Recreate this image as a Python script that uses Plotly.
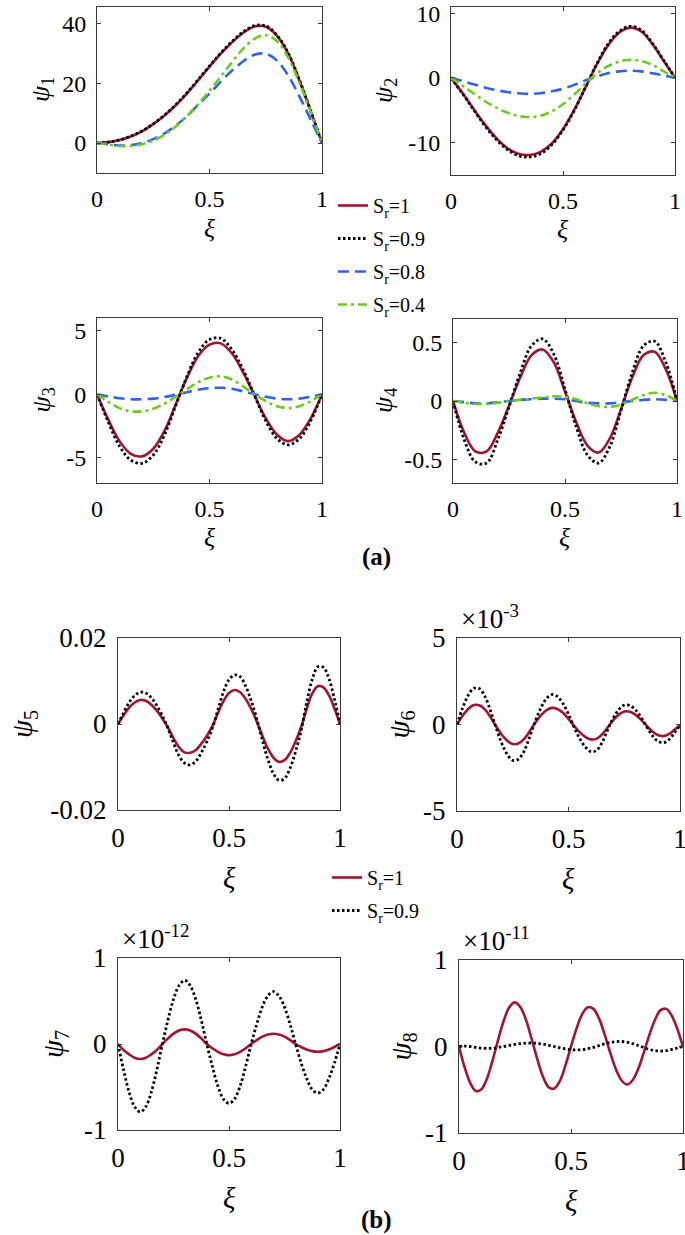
import plotly.graph_objects as go

# ---------------- data ----------------
XI_A = [0, 0.05, 0.1, 0.15, 0.2, 0.25, 0.3, 0.35, 0.4, 0.45, 0.5,
        0.55, 0.6, 0.65, 0.7, 0.75, 0.8, 0.85, 0.9, 0.95, 1.0]
XI_B = [0, 0.025, 0.05, 0.075, 0.1, 0.125, 0.15, 0.175, 0.2, 0.225, 0.25,
        0.275, 0.3, 0.325, 0.35, 0.375, 0.4, 0.425, 0.45, 0.475, 0.5,
        0.525, 0.55, 0.575, 0.6, 0.625, 0.65, 0.675, 0.7, 0.725, 0.75,
        0.775, 0.8, 0.825, 0.85, 0.875, 0.9, 0.925, 0.95, 0.975, 1.0]

SR_A = ["S<sub>r</sub>=1", "S<sub>r</sub>=0.9", "S<sub>r</sub>=0.8", "S<sub>r</sub>=0.4"]
SR_B = ["S<sub>r</sub>=1", "S<sub>r</sub>=0.9"]

# psi_1
psi1_10 = [0, 0.3, 1.0, 2.2, 3.9, 6.3, 9.2, 12.6, 16.6, 21.0, 25.5,
           29.8, 33.6, 36.8, 38.9, 38.8, 35.8, 29.8, 20.8, 10.6, 0]
psi1_09 = [0, 0.3, 1.0, 2.3, 4.0, 6.4, 9.3, 12.8, 16.8, 21.2, 25.7,
           30.0, 33.9, 37.1, 39.2, 39.1, 36.0, 30.0, 21.0, 10.7, 0]
psi1_08 = [0, -0.4, -0.8, -0.7, 0, 1.3, 3.2, 5.8, 9.0, 12.8, 16.5,
           20.5, 24.2, 27.3, 29.5, 29.8, 27.5, 22.5, 15.5, 7.8, 0]
psi1_04 = [0, -0.5, -1.0, -1.0, -0.4, 0.8, 2.8, 5.5, 9.0, 13.0, 17.5,
           22.2, 27.0, 31.5, 34.8, 36.0, 34.0, 28.5, 20.0, 10.3, 0]

# psi_2
psi2_10 = [0, -2.3, -4.8, -7.2, -9.3, -10.9, -11.8, -12.0, -11.5, -10.2, -8.0,
           -5.0, -1.5, 2.0, 5.0, 7.0, 7.8, 7.2, 5.2, 2.6, 0]
psi2_09 = [0, -2.4, -4.9, -7.4, -9.5, -11.1, -12.1, -12.3, -11.8, -10.4, -8.1,
           -5.1, -1.5, 2.1, 5.2, 7.2, 8.0, 7.4, 5.3, 2.7, 0]
psi2_08 = [0, -0.5, -1.0, -1.5, -1.9, -2.2, -2.4, -2.5, -2.4, -2.1, -1.7,
           -1.1, -0.4, 0.2, 0.7, 1.0, 1.1, 1.0, 0.7, 0.35, 0]
psi2_04 = [0, -1.2, -2.4, -3.6, -4.6, -5.4, -5.9, -6.1, -5.9, -5.2, -4.1,
           -2.6, -0.9, 0.6, 1.8, 2.5, 2.8, 2.6, 2.0, 1.0, 0]

# psi_3
psi3_10 = [0, -2.0, -3.7, -4.7, -4.9, -4.3, -2.9, -0.8, 1.3, 3.0, 3.9,
           4.0, 3.2, 1.7, -0.1, -1.9, -3.2, -3.7, -3.2, -1.9, 0]
psi3_09 = [0, -2.2, -4.1, -5.2, -5.45, -4.8, -3.2, -0.9, 1.4, 3.3, 4.3,
           4.4, 3.5, 1.9, -0.1, -2.1, -3.5, -4.0, -3.5, -2.1, 0]
psi3_08 = [0, -0.18, -0.32, -0.4, -0.4, -0.35, -0.22, -0.05, 0.15, 0.35, 0.47,
           0.5, 0.42, 0.22, 0.0, -0.2, -0.35, -0.4, -0.35, -0.2, 0]
psi3_04 = [0, -0.6, -1.1, -1.35, -1.35, -1.15, -0.75, -0.2, 0.4, 0.95, 1.3,
           1.4, 1.15, 0.6, 0.0, -0.55, -0.95, -1.1, -0.95, -0.55, 0]

# psi_4
psi4_10 = [0, -0.27, -0.43, -0.43, -0.27, -0.04, 0.2, 0.39, 0.44, 0.33, 0.08,
           -0.18, -0.38, -0.44, -0.32, -0.07, 0.2, 0.39, 0.42, 0.27, 0]
psi4_09 = [0, -0.33, -0.52, -0.53, -0.33, -0.05, 0.24, 0.47, 0.53, 0.40, 0.1,
           -0.22, -0.46, -0.53, -0.39, -0.08, 0.24, 0.47, 0.51, 0.33, 0]
psi4_08 = [0, -0.01, -0.02, -0.02, -0.01, 0.0, 0.01, 0.015, 0.02, 0.02, 0.015,
           0.0, -0.015, -0.02, -0.02, -0.01, 0.0, 0.01, 0.015, 0.01, 0]
psi4_04 = [0, -0.015, -0.025, -0.025, -0.015, 0.0, 0.01, 0.02, 0.03, 0.04, 0.035,
           0.015, -0.02, -0.045, -0.05, -0.03, 0.01, 0.05, 0.07, 0.05, 0]

# psi_5
psi5_10 = [0, 0.0020, 0.0038, 0.0050, 0.0056, 0.0054, 0.0045, 0.0031, 0.0013, -0.0008, -0.0033,
           -0.0054, -0.0066, -0.0067, -0.0061, -0.0046, -0.0028, -0.0005, 0.0025, 0.0053, 0.0072,
           0.0079, 0.0074, 0.0058, 0.0035, 0.0006, -0.0027, -0.0057, -0.0078, -0.0088, -0.0084,
           -0.0067, -0.0040, -0.0007, 0.0035, 0.0071, 0.0088, 0.0085, 0.0067, 0.0036, 0]
psi5_09 = [0, 0.0026, 0.0050, 0.0066, 0.0074, 0.0072, 0.0061, 0.0043, 0.0019, -0.0010, -0.0044,
           -0.0074, -0.0091, -0.0095, -0.0087, -0.0067, -0.0041, -0.0010, 0.0033, 0.0075, 0.0103,
           0.0114, 0.0110, 0.0088, 0.0054, 0.0012, -0.0037, -0.0082, -0.0115, -0.0131, -0.0127,
           -0.0103, -0.0064, -0.0015, 0.0050, 0.0104, 0.0133, 0.0132, 0.0106, 0.0058, 0]

# psi_6 (x 1e-3)
psi6_10 = [0, 0.50, 0.90, 1.12, 1.11, 0.87, 0.43, -0.10, -0.58, -0.94, -1.13,
           -1.10, -0.85, -0.41, 0.09, 0.51, 0.82, 0.96, 0.90, 0.68, 0.33,
           -0.08, -0.44, -0.71, -0.86, -0.83, -0.58, -0.18, 0.24, 0.57, 0.75,
           0.74, 0.57, 0.28, -0.07, -0.39, -0.61, -0.67, -0.56, -0.31, -0.04]
psi6_09 = [0, 0.94, 1.68, 2.09, 2.08, 1.63, 0.80, -0.18, -1.06, -1.72, -2.07,
           -2.01, -1.56, -0.75, 0.16, 0.92, 1.48, 1.73, 1.62, 1.22, 0.59,
           -0.15, -0.80, -1.29, -1.57, -1.51, -1.06, -0.33, 0.36, 0.85, 1.12,
           1.10, 0.85, 0.42, -0.11, -0.62, -0.96, -1.06, -0.88, -0.49, -0.05]

# psi_7 (x 1e-12)
psi7_10 = [0, -0.07, -0.12, -0.16, -0.175, -0.16, -0.12, -0.07, 0, 0.065, 0.12,
           0.157, 0.17, 0.157, 0.12, 0.065, 0, -0.05, -0.092, -0.12, -0.13,
           -0.12, -0.092, -0.05, 0, 0.046, 0.085, 0.11, 0.12, 0.11, 0.085,
           0.046, 0, -0.035, -0.064, -0.083, -0.09, -0.083, -0.064, -0.035, 0]
psi7_09 = [0, -0.30, -0.56, -0.73, -0.79, -0.73, -0.56, -0.30, 0, 0.28, 0.52,
           0.68, 0.74, 0.68, 0.52, 0.28, 0, -0.26, -0.49, -0.64, -0.69,
           -0.64, -0.49, -0.26, 0, 0.23, 0.43, 0.56, 0.61, 0.56, 0.43,
           0.23, 0, -0.22, -0.40, -0.53, -0.57, -0.53, -0.40, -0.22, 0]

# psi_8 (x 1e-11)
psi8_10 = [0, -0.24, -0.42, -0.515, -0.495, -0.37, -0.16, 0.08, 0.30, 0.455, 0.51,
           0.45, 0.30, 0.08, -0.15, -0.35, -0.47, -0.485, -0.40, -0.22, 0,
           0.21, 0.375, 0.455, 0.435, 0.325, 0.14, -0.07, -0.26, -0.39, -0.44,
           -0.39, -0.26, -0.07, 0.135, 0.31, 0.42, 0.435, 0.355, 0.20, 0]
psi8_09 = [0, 0.005, 0.0, -0.01, -0.018, -0.022, -0.02, -0.012, 0.0, 0.012, 0.024,
           0.033, 0.039, 0.04, 0.036, 0.027, 0.014, 0.0, -0.015, -0.028, -0.037,
           -0.04, -0.037, -0.026, -0.01, 0.01, 0.03, 0.046, 0.056, 0.058, 0.05,
           0.034, 0.012, -0.012, -0.034, -0.048, -0.053, -0.048, -0.034, -0.017, 0]

# tick values / labels
XTICKS = [0, 0.5, 1]
XTICKTEXT = ["0", "0.5", "1"]
Y_TICKS = {
    1: ([0, 20, 40], ["0", "20", "40"]),
    2: ([-10, 0, 10], ["-10", "0", "10"]),
    3: ([-5, 0, 5], ["-5", "0", "5"]),
    4: ([-0.5, 0, 0.5], ["-0.5", "0", "0.5"]),
    5: ([-0.02, 0, 0.02], ["-0.02", "0", "0.02"]),
    6: ([-5, 0, 5], ["-5", "0", "5"]),
    7: ([-1, 0, 1], ["-1", "0", "1"]),
    8: ([-1, 0, 1], ["-1", "0", "1"]),
}
Y_RANGES = {1: [-10, 45.4], 2: [-15.1, 11], 3: [-7, 6], 4: [-0.7, 0.7],
            5: [-0.02, 0.02], 6: [-5, 5], 7: [-1, 1], 8: [-1, 1]}
EXPONENTS = {6: "-3", 7: "-12", 8: "-11"}

# ---------------- styles ----------------
W, H = 685, 1235
FONT = "Liberation Serif, Times New Roman, serif"
RED = "#A2142F"
BLUE = "#2F62F2"
GREEN = "#6CCB1E"
STYLES = [
    dict(color=RED, width=2.6, dash="solid"),
    dict(color="black", width=2.8, dash="2.5px,2.5px"),
    dict(color=BLUE, width=2.6, dash="11px,6px"),
    dict(color=GREEN, width=2.6, dash="9px,4px,3px,4px"),
]

# subplot boxes in pixels: (left, right, top, bottom)
BOXES = {
    1: (97, 322, 7, 173),
    2: (451, 675, 7, 175),
    3: (97, 322, 318, 483),
    4: (453, 677, 319, 483),
    5: (118, 340, 638, 810),
    6: (457, 680, 638, 811),
    7: (118, 340, 958, 1130),
    8: (459, 683, 960, 1133),
}

panel_data = {
    1: [psi1_10, psi1_09, psi1_08, psi1_04],
    2: [psi2_10, psi2_09, psi2_08, psi2_04],
    3: [psi3_10, psi3_09, psi3_08, psi3_04],
    4: [psi4_10, psi4_09, psi4_08, psi4_04],
    5: [psi5_10, psi5_09],
    6: [psi6_10, psi6_09],
    7: [psi7_10, psi7_09],
    8: [psi8_10, psi8_09],
}

fig = go.Figure()
layout = dict(template="none", width=W, height=H, autosize=False,
              margin=dict(l=0, r=0, t=0, b=0, pad=0),
              paper_bgcolor="white", plot_bgcolor="white",
              font=dict(family=FONT, color="black"))

annotations = []

for k in range(1, 9):
    L, R, T, B = BOXES[k]
    part_a = k <= 4
    xi = XI_A if part_a else XI_B
    names = SR_A if part_a else SR_B
    fs = 24 if part_a else 27
    for j, ys in enumerate(panel_data[k]):
        st = STYLES[j]
        fig.add_trace(go.Scatter(
            x=xi, y=ys, mode="lines", name=names[j],
            line=dict(color=st["color"], width=st["width"], dash=st["dash"],
                      shape="spline", smoothing=1.0),
            xaxis="x%d" % k, yaxis="y%d" % k,
            legend="legend" if part_a else "legend2",
            legendgroup=("a%d" % j) if part_a else ("b%d" % j),
            showlegend=(k == 1 or k == 5),
            hoverinfo="skip",
        ))
    axcommon = dict(showline=True, linecolor="#3a3a3a", linewidth=1, mirror="ticks",
                    ticks="inside", ticklen=4, tickwidth=1, tickcolor="#3a3a3a",
                    showgrid=False, zeroline=False, automargin=False,
                    ticklabeloverflow="allow",
                    tickfont=dict(family=FONT, size=fs, color="black"))
    layout["xaxis%d" % k] = dict(axcommon, domain=[L / W, R / W], range=[0, 1],
                                 anchor="y%d" % k, tickvals=XTICKS, ticktext=XTICKTEXT,
                                 ticklabelstandoff=4)
    tv, tt = Y_TICKS[k]
    layout["yaxis%d" % k] = dict(axcommon, domain=[1 - B / H, 1 - T / H], range=Y_RANGES[k],
                                 anchor="x%d" % k, tickvals=tv, ticktext=tt,
                                 ticklabelstandoff=5)
    # axis titles as annotations
    xc = (L + R) / 2
    yc = (T + B) / 2
    if part_a:
        xi_y = B + 55
        psi_x = 42 if k in (1, 3) else 385
    else:
        xi_y = B + 68
        psi_x = {5: 24, 6: 400, 7: 55, 8: 402}[k]
    annotations.append(dict(text="<i>ξ</i>", x=xc / W, y=1 - xi_y / H, xref="paper", yref="paper",
                            showarrow=False, xanchor="center", yanchor="middle",
                            font=dict(family=FONT, size=fs + 2, color="black")))
    annotations.append(dict(text="<i>ψ</i><sub>%d</sub>" % k, x=psi_x / W, y=1 - yc / H,
                            xref="paper", yref="paper", textangle=-90,
                            showarrow=False, xanchor="center", yanchor="middle",
                            font=dict(family=FONT, size=fs + 2, color="black")))
    if k in EXPONENTS:
        annotations.append(dict(text="×10<sup>%s</sup>" % EXPONENTS[k], x=(L + 2) / W,
                                y=1 - (T - 2) / H, xref="paper", yref="paper",
                                showarrow=False, xanchor="left", yanchor="bottom",
                                font=dict(family=FONT, size=fs, color="black")))

annotations.append(dict(text="<b>(a)</b>", x=376 / W, y=1 - 557 / H, xref="paper", yref="paper",
                        showarrow=False, xanchor="center", yanchor="middle",
                        font=dict(family=FONT, size=25, color="black")))
annotations.append(dict(text="<b>(b)</b>", x=376 / W, y=1 - 1220 / H, xref="paper", yref="paper",
                        showarrow=False, xanchor="center", yanchor="middle",
                        font=dict(family=FONT, size=25, color="black")))

layout["annotations"] = annotations
layout["legend"] = dict(x=333 / W, y=1 - 186 / H, xanchor="left", yanchor="top",
                        bgcolor="rgba(0,0,0,0)", font=dict(family=FONT, size=20, color="black"),
                        tracegroupgap=4, itemwidth=30)
layout["legend2"] = dict(x=327 / W, y=1 - 858 / H, xanchor="left", yanchor="top",
                         bgcolor="rgba(0,0,0,0)", font=dict(family=FONT, size=20, color="black"),
                         tracegroupgap=4, itemwidth=30)

fig.update_layout(**layout)
fig.write_html("out.html", config={"displayModeBar": False},
               post_script="document.body.style.margin='0';document.body.style.padding='0';")
